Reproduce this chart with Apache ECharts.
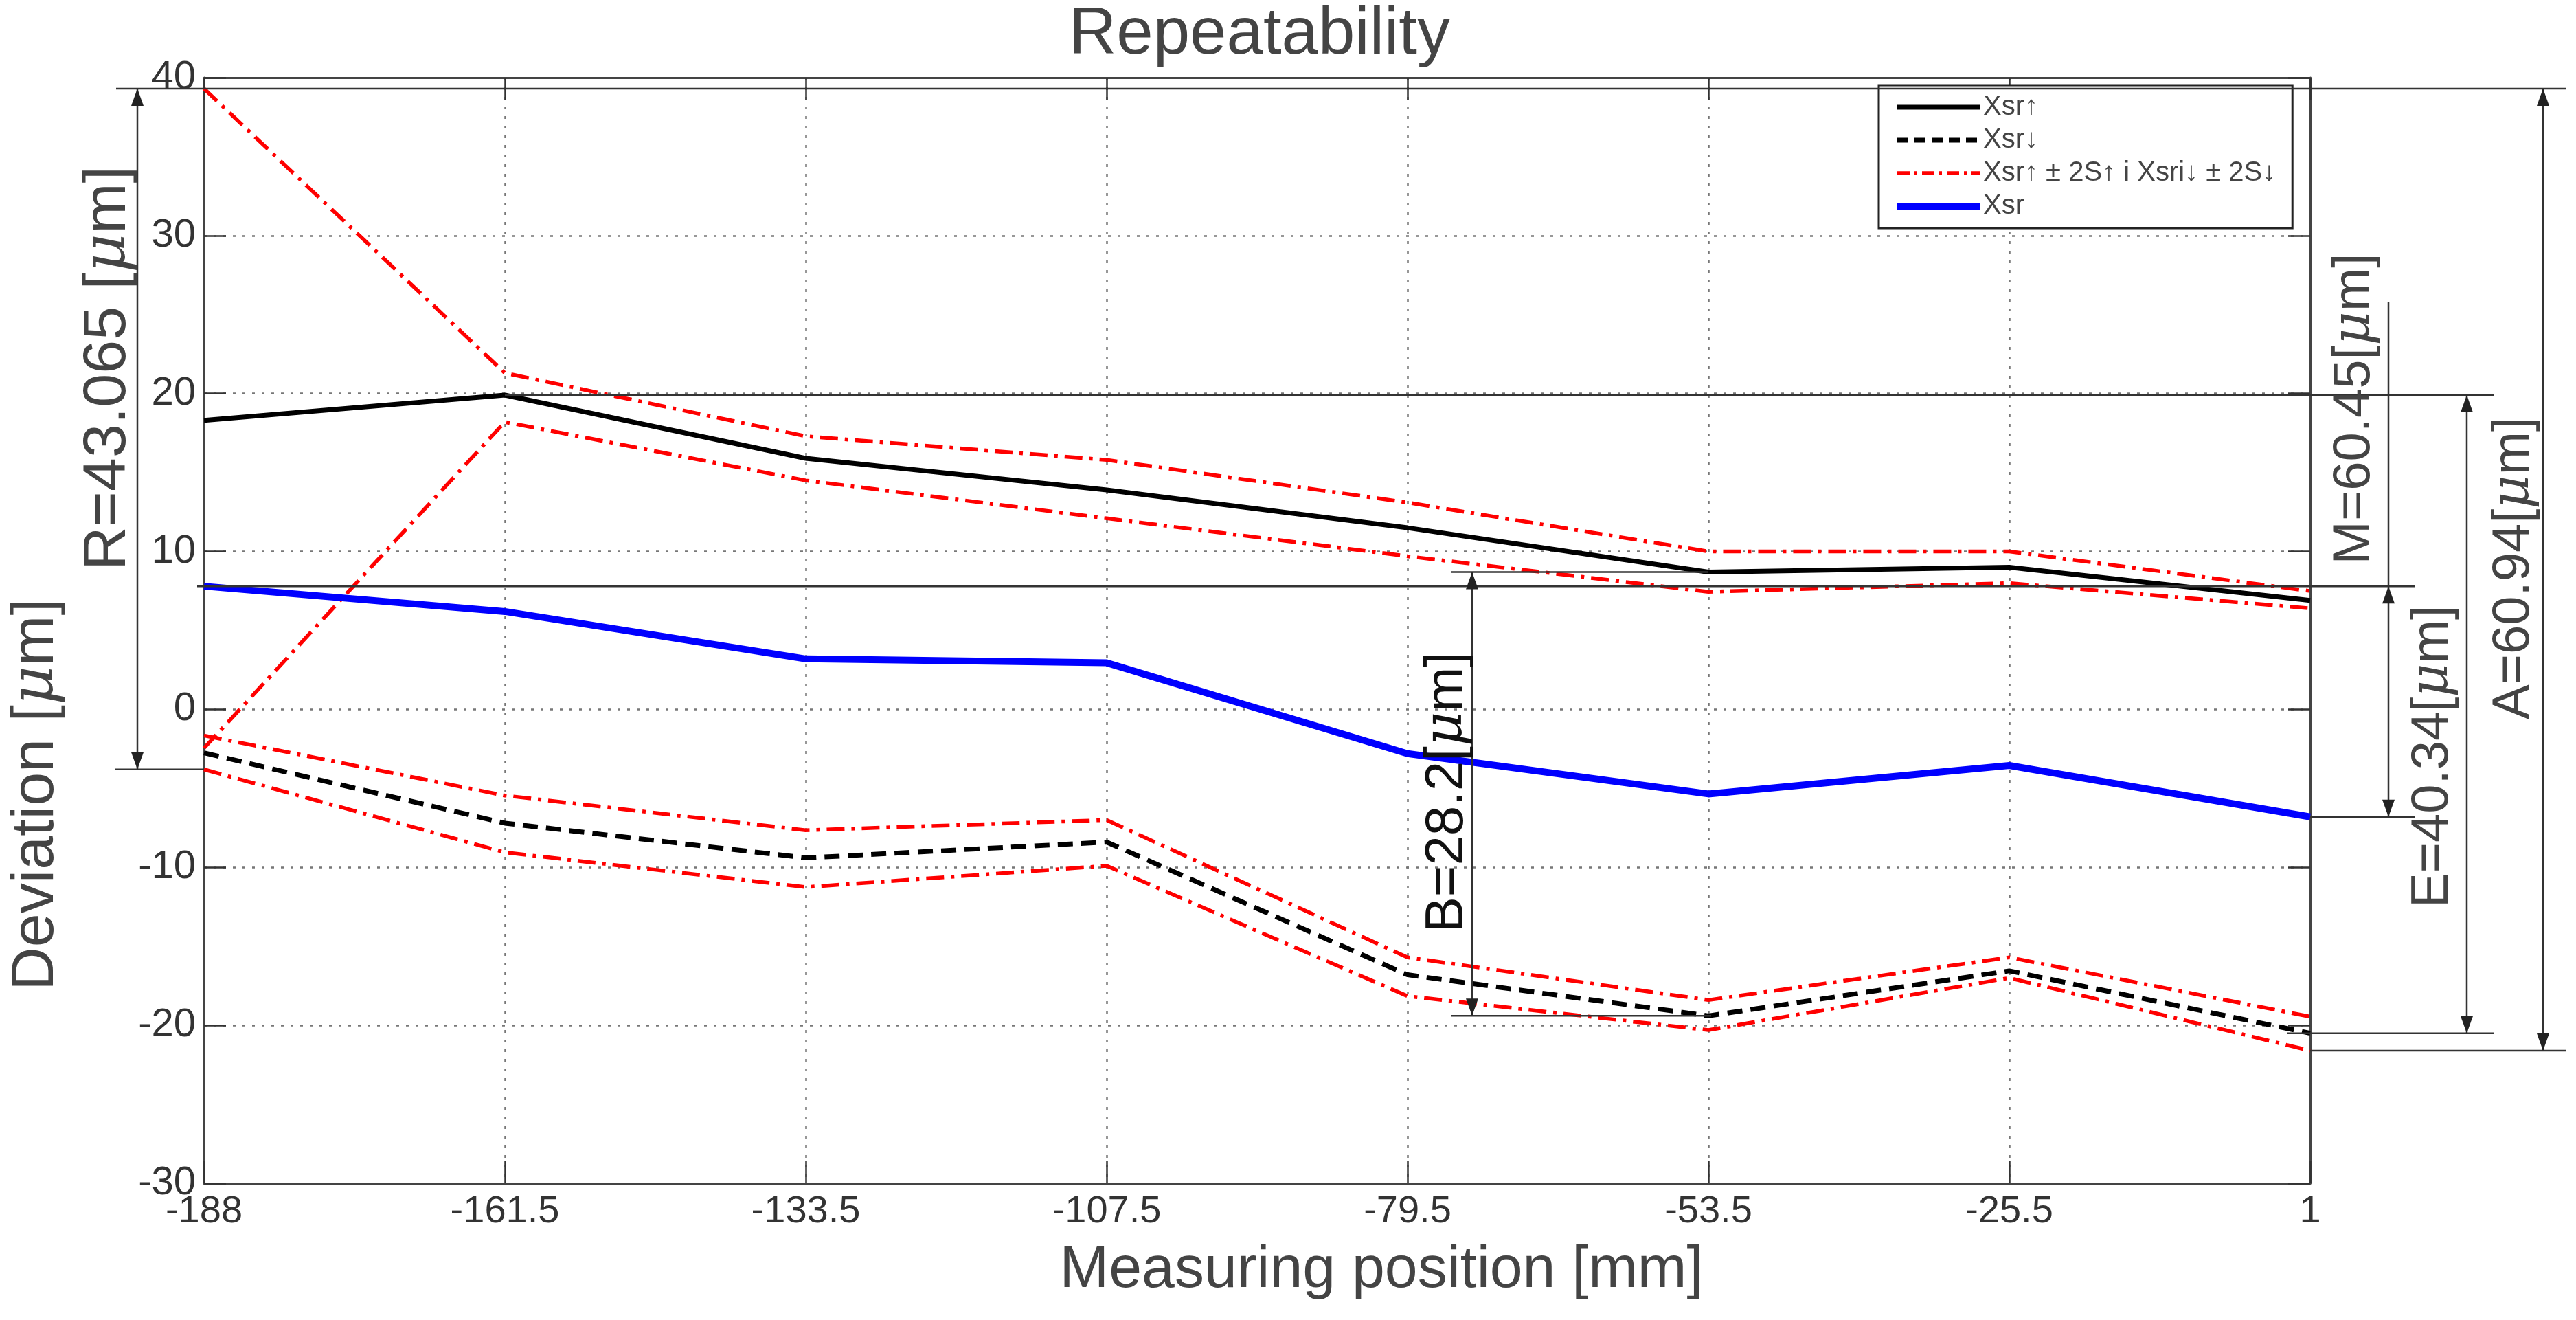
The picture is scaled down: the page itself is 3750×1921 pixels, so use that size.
<!DOCTYPE html>
<html>
<head>
<meta charset="utf-8">
<script src="https://cdn.jsdelivr.net/npm/echarts@6/dist/echarts.min.js"></script>
<style>html,body{margin:0;padding:0;background:#fff}#c{width:3750px;height:1921px}</style>
</head>
<body>
<div id="c"></div>
<script>
// ---- data ----
const categories = ['-188', '-161.5', '-133.5', '-107.5', '-79.5', '-53.5', '-25.5', '1'];
const xsrUp        = [18.3, 19.9, 15.9, 13.9, 11.5, 8.7, 9.0, 6.9];
const xsrUpPlus2S  = [39.3, 21.3, 17.3, 15.8, 13.1, 10.0, 10.0, 7.5];
const xsrUpMinus2S = [-2.45, 18.2, 14.5, 12.1, 9.7, 7.45, 8.0, 6.4];
const xsrDown        = [-2.75, -7.2, -9.4, -8.4, -16.8, -19.4, -16.55, -20.5];
const xsrDownPlus2S  = [-1.65, -5.45, -7.65, -7.0, -15.7, -18.4, -15.7, -19.45];
const xsrDownMinus2S = [-3.8, -9.05, -11.25, -9.9, -18.15, -20.3, -17.0, -21.6];
const xsr = [7.8, 6.2, 3.2, 2.95, -2.8, -5.35, -3.55, -6.8];
const yMin = -30, yMax = 40, yStep = 10;

const NAME_UP = 'Xsr\u2191';
const NAME_DOWN = 'Xsr\u2193';
const NAME_BAND = 'Xsr\u2191 \u00b1 2S\u2191 i Xsri\u2193 \u00b1 2S\u2193';
const NAME_XSR = 'Xsr';
const TITLE = 'Repeatability';

const F = '"Liberation Sans", Arial, Helvetica, sans-serif';
const MU = {fontStyle: 'italic', fontFamily: '"DejaVu Serif", serif'};

const chart = echarts.init(document.getElementById('c'), null, {renderer: 'canvas'});

const grid = {left: 297, top: 113, right: 387, bottom: 199};
const gridLine = {type: [4, 10], color: '#777', width: 2.5};
const axisLineStyle = {color: '#444', width: 3};

const upStyle = {color: '#000', width: 7, type: 'solid'};
const downStyle = {color: '#000', width: 7, type: [22, 12]};
const bandStyle = {color: '#ff0000', width: 5.5, type: [26, 10, 5, 10]};
const xsrStyle = {color: '#0000ff', width: 10, type: 'solid'};
function band(data) {
  return {name: NAME_BAND, type: 'line', data: data, symbol: 'none', lineStyle: bandStyle, itemStyle: {color: '#ff0000'}, z: 3};
}

// title centred over x = 1833 (measured text width)
const TITLE_SIZE = 96;
const mctx = document.createElement('canvas').getContext('2d');
mctx.font = TITLE_SIZE + 'px ' + F;
const titleW = mctx.measureText(TITLE).width;

const hidden = {opacity: 0};
const option = {
  animation: false,
  backgroundColor: '#ffffff',
  title: {
    text: TITLE, left: Math.round(1833 - titleW / 2), top: 2, padding: 0,
    textStyle: {fontSize: TITLE_SIZE, fontWeight: 'normal', color: '#444', fontFamily: F, lineHeight: 100}
  },
  grid: grid,
  legend: {
    data: [
      {name: NAME_UP, lineStyle: upStyle, itemStyle: hidden},
      {name: NAME_DOWN, lineStyle: Object.assign({}, downStyle, {type: [16, 9]}), itemStyle: hidden},
      {name: NAME_BAND, lineStyle: Object.assign({}, bandStyle, {type: [18, 7, 4, 7]}), itemStyle: hidden},
      {name: NAME_XSR, lineStyle: xsrStyle, itemStyle: hidden}
    ],
    orient: 'vertical', left: 2735, top: 124,
    padding: [12, 24, 12, 22], itemGap: 8, itemWidth: 120, itemHeight: 14,
    itemStyle: hidden,
    textStyle: {fontSize: 40, lineHeight: 36, color: '#444', fontFamily: F},
    backgroundColor: '#ffffff', borderColor: '#222', borderWidth: 3, borderRadius: 0,
    z: 20
  },
  xAxis: [{
    type: 'category', data: categories, boundaryGap: false, position: 'bottom',
    axisLine: {onZero: false, lineStyle: axisLineStyle},
    axisTick: {inside: true, length: 32, lineStyle: {color: '#333', width: 2.5}},
    axisLabel: {fontSize: 56, color: '#333', margin: 14, fontFamily: F, interval: 0},
    splitLine: {show: true, lineStyle: gridLine},
    name: 'Measuring position [mm]', nameLocation: 'middle', nameGap: 84,
    nameTextStyle: {fontSize: 86, color: '#444', fontFamily: F, padding: [0, 0, 0, 362]}
  }, {
    type: 'category', data: categories, boundaryGap: false, position: 'top',
    axisLine: {onZero: false, lineStyle: axisLineStyle},
    axisTick: {inside: true, length: 32, lineStyle: {color: '#333', width: 2.5}},
    axisLabel: {show: false}, splitLine: {show: false}
  }],
  yAxis: [{
    type: 'value', min: yMin, max: yMax, interval: yStep, position: 'left',
    axisLine: {show: true, onZero: false, lineStyle: axisLineStyle},
    axisTick: {show: true, inside: true, length: 32, lineStyle: {color: '#333', width: 2.5}},
    axisLabel: {fontSize: 58, color: '#333', margin: 12, fontFamily: F},
    splitLine: {show: true, lineStyle: gridLine},
    name: 'Deviation [{m|\u03bc}m]', nameLocation: 'middle', nameRotate: 90, nameGap: 200,
    nameTextStyle: {fontSize: 88, color: '#444', fontFamily: F, padding: [0, 478, 0, 0],
      rich: {m: Object.assign({fontSize: 88, color: '#444'}, MU)}}
  }, {
    type: 'value', min: yMin, max: yMax, interval: yStep, position: 'right',
    axisLine: {show: true, onZero: false, lineStyle: axisLineStyle},
    axisTick: {show: true, inside: true, length: 32, lineStyle: {color: '#333', width: 2.5}},
    axisLabel: {show: false}, splitLine: {show: false}
  }],
  series: [
    band(xsrUpPlus2S), band(xsrUpMinus2S), band(xsrDownPlus2S), band(xsrDownMinus2S),
    {name: NAME_UP, type: 'line', data: xsrUp, symbol: 'none', lineStyle: upStyle, itemStyle: {color: '#000'}, z: 4},
    {name: NAME_DOWN, type: 'line', data: xsrDown, symbol: 'none', lineStyle: downStyle, itemStyle: {color: '#000'}, z: 4},
    {name: NAME_XSR, type: 'line', data: xsr, symbol: 'none', lineStyle: xsrStyle, itemStyle: {color: '#0000ff'}, z: 4}
  ]
};
chart.setOption(option);

// ---- annotations (dimension lines), y from data through the value axis ----
const Y = v => chart.convertToPixel({yAxisIndex: 0}, v);
const X = i => chart.convertToPixel({xAxisIndex: 0}, categories[i]);
const STROKE = '#333';
const els = [];
function hline(v, x1, x2) {
  const y = Y(v);
  els.push({type: 'line', z: 30, silent: true, shape: {x1: x1, y1: y, x2: x2, y2: y}, style: {stroke: STROKE, lineWidth: 2.5}});
}
function vline(x, vTop, vBot) {
  els.push({type: 'line', z: 30, silent: true, shape: {x1: x, y1: Y(vTop), x2: x, y2: Y(vBot)}, style: {stroke: STROKE, lineWidth: 2.5}});
}
function head(x, y, dir) {
  const L = 25, W = 9;
  els.push({type: 'polygon', z: 31, silent: true,
    shape: {points: [[x, y], [x - W, y - dir * L], [x + W, y - dir * L]]}, style: {fill: '#222'}});
}
function arrow(x, vTop, vBot) {
  vline(x, vTop, vBot);
  head(x, Y(vTop), -1);
  head(x, Y(vBot), 1);
}
function vtext(txt, cx, cy, size, color) {
  els.push({type: 'text', z: 32, silent: true, x: cx, y: cy, rotation: Math.PI / 2,
    style: {text: txt, fontSize: size, fontFamily: F, fill: color, align: 'center', verticalAlign: 'middle',
      rich: {m: Object.assign({fontSize: size, fill: color, color: color}, MU), n: {fontSize: size, fontFamily: F, fill: color, color: color}}}});
}

const topV = Math.max(...xsrUpPlus2S);
const botV = Math.min(...xsrDownMinus2S);
const upMax = Math.max(...xsrUp);
const downMin = Math.min(...xsrDown);
const xsrMax = Math.max(...xsr);
const xsrMin = Math.min(...xsr);
const rBot = xsrDownMinus2S[0];
const bIdx = 5;
const M_TOP = 25.8;
const last = categories.length - 1;

// R
hline(topV, 169, 3735);
hline(rBot, 167, X(0));
arrow(200, topV, rBot);
vtext('{n|R=43.065 [}{m|\u03bc}{n|m]}', 158, 536, 88, '#444');
// reference lines at max Xsr up and at Xsr extremes
hline(upMax, X(xsrUp.indexOf(upMax)), 3631);
hline(xsrMax, 287, 3516);
hline(xsrMin, X(last), 3516);
// B
hline(xsrUp[bIdx], 2112, X(bIdx));
hline(xsrDown[bIdx], 2112, X(bIdx) + 4);
arrow(2143, xsrUp[bIdx], xsrDown[bIdx]);
vtext('{n|B=28.2[}{m|\u03bc}{n|m]}', 2107, 1153, 78, '#111');
// M
vline(3477, M_TOP, xsrMax);
arrow(3477, xsrMax, xsrMin);
vtext('{n|M=60.45[}{m|\u03bc}{n|m]}', 3428, 595, 76, '#444');
// E
hline(downMin, 3330, 3631);
arrow(3591, upMax, downMin);
vtext('{n|E=40.34[}{m|\u03bc}{n|m]}', 3542, 1101, 76, '#444');
// A
hline(botV, X(last), 3735);
arrow(3702, topV, botV);
vtext('{n|A=60.94[}{m|\u03bc}{n|m]}', 3660, 827, 76, '#444');

chart.setOption({graphic: els});
</script>
</body>
</html>
